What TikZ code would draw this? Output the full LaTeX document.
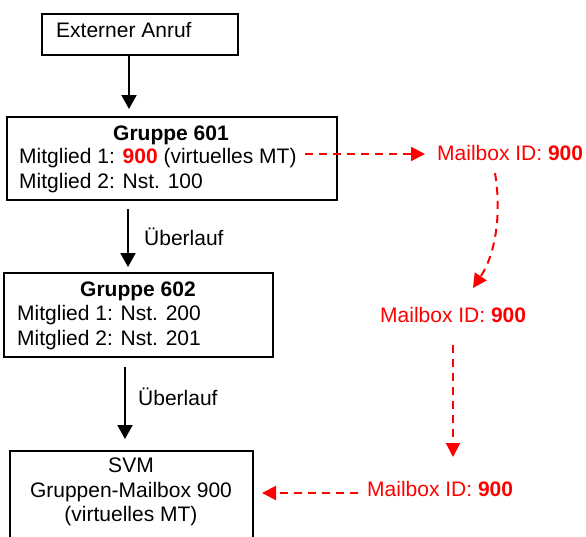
\documentclass[tikz,border=0pt]{standalone}
\usepackage{fontspec}
\setmainfont{Liberation Sans}
\usetikzlibrary{arrows.meta,calc}
\definecolor{mbred}{RGB}{255,0,0}
\begin{document}
\begin{tikzpicture}[x=1pt,y=-1pt,
  box/.style={draw, line width=2pt, inner sep=0pt},
  txt/.style={anchor=base west, inner sep=0pt, font=\fontsize{21}{24}\selectfont},
  ctxt/.style={anchor=base, inner sep=0pt, font=\fontsize{21}{24}\selectfont},
  rtxt/.style={txt, text=mbred},
  arr/.style={draw, line width=2pt, -{Triangle[length=14pt,width=15pt]}},
  rarr/.style={draw=mbred, line width=2pt, dash pattern=on 8pt off 6pt,
    -{Triangle[length=14pt,width=14pt,fill=mbred]}}]
\clip (0,0) rectangle (586,536);
% boxes
\node[box, minimum width=196pt, minimum height=41pt] (anruf) at (140,34.5) {};
\node[box, minimum width=330pt, minimum height=83pt] (g1) at (172,158.5) {};
\node[box, minimum width=269pt, minimum height=84pt] (g2) at (138.5,315) {};
\node[box, minimum width=243pt, minimum height=110pt] (svm) at (131.5,506) {};
% texts
\node[txt] (tanruf) at (56,37) {Externer Anruf};
\node[ctxt] (g1t) at (171,140) {\bfseries Gruppe 601};
\node[txt] (m1) at (19,163) {Mitglied 1: {\color{mbred}\bfseries 900} (virtuelles MT)};
\node[txt] (m2) at (19,188) {Mitglied 2: Nst. 100};
\node[ctxt] (g2t) at (138,296) {\bfseries Gruppe 602};
\node[txt] (m3) at (17,320) {Mitglied 1: Nst. 200};
\node[txt] (m4) at (17,345) {Mitglied 2: Nst. 201};
\node[ctxt] (s1) at (131,472) {SVM};
\node[ctxt] (s2) at (131,497) {Gruppen-Mailbox 900};
\node[ctxt] (s3) at (131,521) {(virtuelles MT)};
\node[txt] (ue1) at (144,245) {Überlauf};
\node[txt] (ue2) at (138,405) {Überlauf};
\node[rtxt] (mb1) at (437,160) {Mailbox ID: \bfseries 900};
\node[rtxt] (mb2) at (380,322) {Mailbox ID: \bfseries 900};
\node[rtxt] (mb3) at (367,496) {Mailbox ID: \bfseries 900};
% black arrows
\draw[arr] ($(anruf.south west)+(88,0)$) -- ($(g1.north west)+(123,-7)$);
\draw[arr] ($(g1.south west)+(122,8)$) -- ($(g2.north west)+(125,-5)$);
\draw[arr] ($(g2.south west)+(122,9)$) -- ($(svm.north west)+(116,-11)$);
% red dashed arrows
\draw[rarr] ($(m1.base east)+(8,-9)$) -- ($(mb1.base west)+(-12,-6)$);
\draw[rarr] ($(mb1.base west)+(58,13)$) .. controls +(7,42) and +(22,-33) .. ($(mb2.base west)+(93,-34)$);
\draw[rarr] ($(mb2.base west)+(73,23)$) -- ($(mb3.base west)+(86,-39)$);
\draw[rarr] ($(mb3.base west)+(-9,-3)$) -- ($(svm.east)+(8,-13)$);
\end{tikzpicture}
\end{document}
